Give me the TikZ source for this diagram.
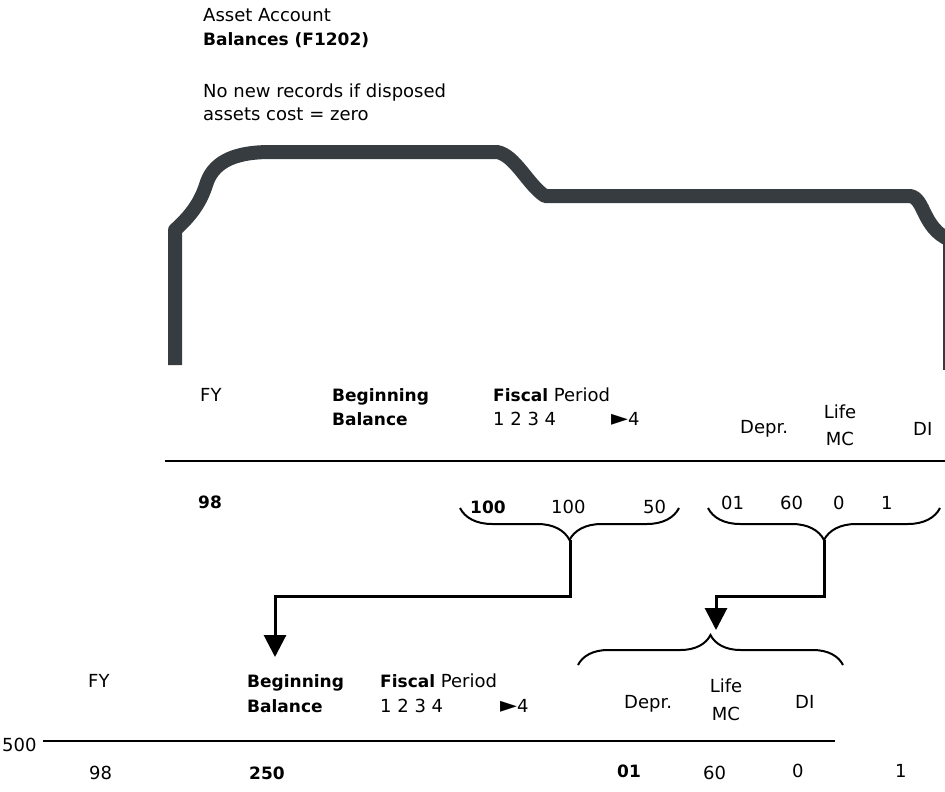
\documentclass[tikz,border=0pt]{standalone}
\usepackage{fontspec}
\setmainfont{DejaVu Sans}
\usepackage{tikz}
\usetikzlibrary{positioning, arrows.meta, decorations.pathreplacing}
\definecolor{folder}{HTML}{363C3F}
\tikzset{T/.style={inner sep=0pt, anchor=base west, font=\fontsize{18}{20}\selectfont}}
\tikzset{C/.style={T, anchor=base}}
\tikzset{brc/.style={decorate, decoration={brace, amplitude=32pt}, line width=2pt}}
\newcommand{\bd}[1]{{\fontsize{17}{20}\selectfont\bfseries #1}}
\newcommand{\ptail}{{\fontsize{22}{20}\selectfont ►}4}

\begin{document}
\begin{tikzpicture}[x=1pt, y=-1pt, flow/.style={line width=3pt, -{Triangle[width=22pt,length=22pt]}}]
\useasboundingbox (0,0) rectangle (945,792);
% folder
\draw[folder, line width=14pt, line join=round]
  (175,365) -- (175,230) .. controls (195,212) and (202,198) .. (207,182)
  .. controls (215,160) and (238,152) .. (270,152) -- (497,152)
  .. controls (515,155) and (528,185) .. (545,196) -- (910,196)
  .. controls (925,198) and (922,228) .. (950,240);
\draw[folder, line width=1.5pt] (944,240) -- (944,370);
% notes
\node (N1) [T] at (203,22) {Asset Account};
\node (N2) [T] at (203,46) {\bd{Balances (F1202)}};
\node (N3) [T] at (203,97) {No new records if disposed};
\node (N4) [T] at (203,121) {assets cost = zero};
% old record
\node (FY1) [T] at (200,401) {FY};
\node (BB1) [T] at (332,401) {\bd{Beginning}};
\node (BL1) [T] at (332,425) {\bd{Balance}};
\node (FP1) [T] at (493,401) {\bd{Fiscal} Period};
\node (PN1) [T] at (493,425) {1 2 3 4};
\node (P14) [T] at (611,425) {\ptail};
\node (DP1) [T] at (740,433) {Depr.};
\node (LF1) [C] at (840,418) {Life};
\node (MC1) [C] at (840,445) {MC};
\node (DI1) [T] at (913,435) {DI};
\draw[line width=2.5pt] (165,461) -- (945,461);
\node (V98a) [T] at (198,508) {\bd{98}};
\node (VA) [T] at (470,513) {\bd{100}};
\node (VB) [T] at (551,513) {100};
\node (VC) [T] at (643,513) {50};
\node (VD) [T] at (721,509) {01};
\node (VE) [T] at (780,509) {60};
\node (VF) [T] at (833,509) {0};
\node (VG) [T] at (881,509) {1};
\draw[brc, decoration={mirror}] (460,508) -- (679,508);
\draw[brc, decoration={mirror}] (708,508) -- (940,508);
\coordinate (TipA) at (570,540);
\coordinate (TipB) at (824,540);
% new record
\coordinate (ArrA) at (275,657);
\coordinate (ArrB) at (716,630);
\draw[flow] (TipA) -- ++(0,56) -| (ArrA);
\draw[flow] (TipB) -- ++(0,56) -| (ArrB);
\draw[brc, decoration={amplitude=30pt}] (578,665) -- (843,665);
\node (FY2) [T] at (88,687) {FY};
\node (BB2) [T] at (247,687) {\bd{Beginning}};
\node (BL2) [T] at (247,712) {\bd{Balance}};
\node (FP2) [T] at (380,687) {\bd{Fiscal} Period};
\node (PN2) [T] at (380,712) {1 2 3 4};
\node (P24) [T] at (500,712) {\ptail};
\node (DP2) [T] at (624,708) {Depr.};
\node (LF2) [C] at (726,692) {Life};
\node (MC2) [C] at (726,720) {MC};
\node (DI2) [T] at (795,708) {DI};
\node (L500) [T] at (2,751) {500};
\draw[line width=2.5pt] (43,741) -- (835,741);
\node (V98b) [T] at (89,779) {98};
\node (V250) [T] at (249,779) {\bd{250}};
\node (VH) [T] at (617,777) {\bd{01}};
\node (VI) [T] at (703,779) {60};
\node (VJ) [T] at (792,777) {0};
\node (VK) [T] at (895,777) {1};
\end{tikzpicture}
\end{document}
